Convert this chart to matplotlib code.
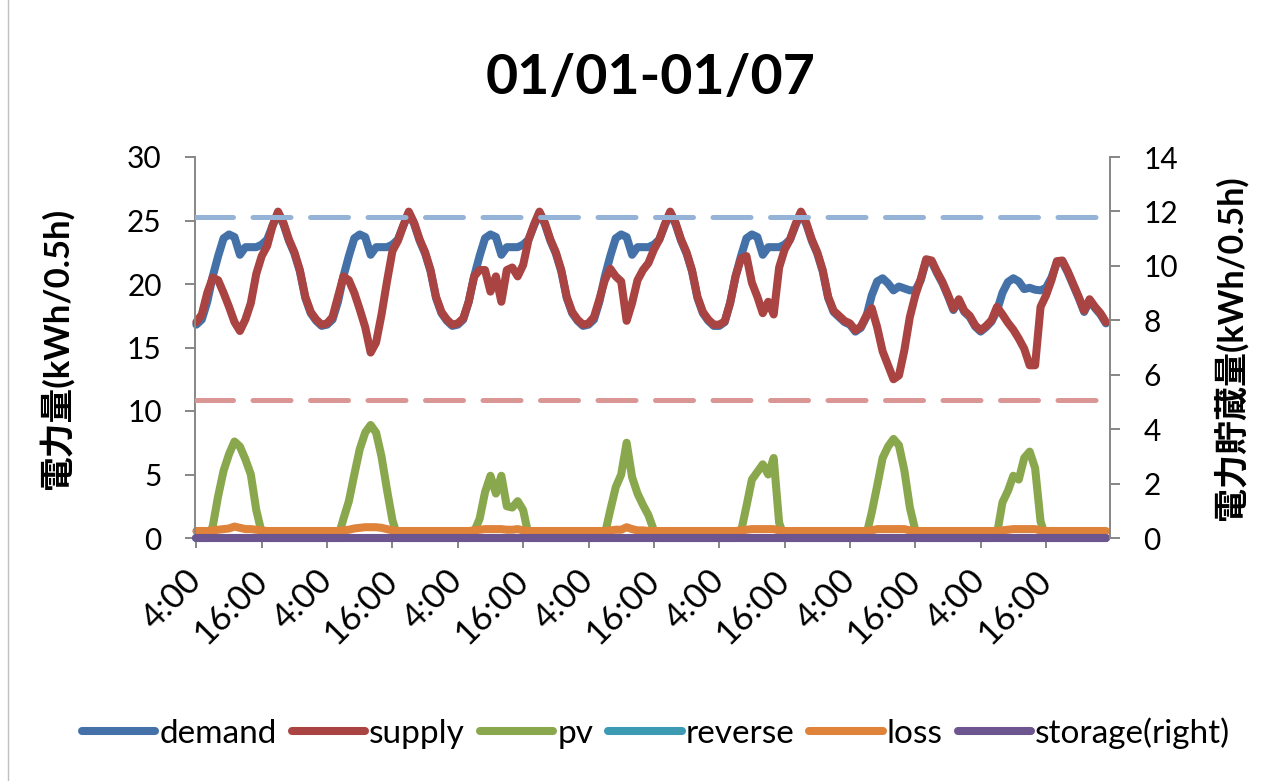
import numpy as np
import matplotlib
matplotlib.use("Agg")
import matplotlib.pyplot as plt
from matplotlib.transforms import ScaledTranslation
from matplotlib.lines import Line2D

plt.rcParams['font.family'] = ['Lato', 'Noto Sans CJK JP', 'DejaVu Sans']

title = "01/01-01/07"
series_names = ["demand", "supply", "pv", "reverse", "loss", "storage(right)"]
tick_labels = ["4:00", "16:00"] * 7
left_label = "電力量(kWh/0.5h)"
right_label = "電力貯蔵量(kWh/0.5h)"

# hourly readings starting 01/01 4:00 (24 values per day)
demand = [
    16.8, 17.2, 18.6, 20.6, 22.2, 23.6, 23.9, 23.7, 22.3, 22.9, 22.9, 22.9, 23.1, 23.5, 24.6, 25.6, 24.7, 23.4, 22.4, 21.0, 18.9, 17.7, 17.1, 16.7,
    16.8, 17.2, 18.6, 20.6, 22.2, 23.6, 23.9, 23.7, 22.3, 22.9, 22.9, 22.9, 23.1, 23.5, 24.6, 25.6, 24.7, 23.4, 22.4, 21.0, 18.9, 17.7, 17.1, 16.7,
    16.8, 17.2, 18.6, 20.6, 22.2, 23.6, 23.9, 23.7, 22.3, 22.9, 22.9, 22.9, 23.1, 23.5, 24.6, 25.6, 24.7, 23.4, 22.4, 21.0, 18.9, 17.7, 17.1, 16.7,
    16.8, 17.2, 18.6, 20.6, 22.2, 23.6, 23.9, 23.7, 22.3, 22.9, 22.9, 22.9, 23.1, 23.5, 24.6, 25.6, 24.7, 23.4, 22.4, 21.0, 18.9, 17.7, 17.1, 16.7,
    16.7, 17.0, 18.5, 20.6, 22.2, 23.6, 23.9, 23.7, 22.3, 22.9, 22.9, 22.9, 23.1, 23.5, 24.6, 25.6, 24.7, 23.4, 22.4, 21.0, 18.9, 17.8, 17.4, 17.0,
    16.8, 16.25, 16.55, 17.4, 19.1, 20.2, 20.45, 20.05, 19.5, 19.8, 19.65, 19.5, 19.5, 20.3, 21.85, 21.75, 20.85, 20.05, 19.05, 17.95, 18.7, 17.8, 17.4, 16.65,
    16.25, 16.6, 17.05, 17.9, 19.3, 20.15, 20.45, 20.2, 19.6, 19.7, 19.55, 19.5, 19.7, 20.5, 21.7, 21.75, 20.9, 19.9, 18.9, 17.8, 18.7, 18.1, 17.6, 16.9,
]

supply = [
    17.0, 17.6, 19.3, 20.5, 20.3, 19.3, 18.2, 17.0, 16.3, 17.2, 18.5, 20.8, 22.2, 23.0, 24.6, 25.7, 24.8, 23.5, 22.5, 21.1, 19.0, 17.8, 17.2, 16.8,
    16.9, 17.4, 19.0, 20.6, 20.3, 19.3, 18.0, 16.6, 14.6, 15.4, 17.6, 20.2, 22.6, 23.4, 24.6, 25.7, 24.8, 23.5, 22.5, 21.1, 19.0, 17.8, 17.2, 16.8,
    16.9, 17.3, 18.6, 20.6, 21.1, 21.1, 19.4, 20.6, 18.6, 21.1, 21.3, 20.6, 21.5, 23.5, 24.7, 25.7, 24.8, 23.5, 22.5, 21.1, 19.0, 17.8, 17.2, 16.8,
    16.9, 17.4, 18.8, 20.3, 21.2, 20.6, 20.2, 17.1, 18.5, 20.3, 21.1, 21.65, 22.7, 23.5, 24.7, 25.7, 24.8, 23.5, 22.5, 21.1, 19.0, 17.8, 17.2, 16.8,
    16.8, 17.05, 18.5, 20.6, 22.0, 22.2, 20.1, 19.0, 17.7, 18.6, 17.6, 21.3, 22.7, 23.5, 24.7, 25.7, 24.8, 23.5, 22.5, 21.1, 19.0, 17.9, 17.5, 17.1,
    16.9, 16.35, 16.65, 17.5, 18.1, 16.6, 14.7, 13.6, 12.5, 12.8, 14.8, 17.4, 19.1, 20.4, 21.95, 21.85, 20.95, 20.15, 19.15, 18.05, 18.8, 17.9, 17.5, 16.75,
    16.35, 16.7, 17.15, 18.2, 17.6, 16.95, 16.4, 15.7, 14.9, 13.6, 13.6, 18.2, 19.1, 20.3, 21.8, 21.85, 21.0, 20.0, 19.0, 17.9, 18.8, 18.2, 17.7, 17.0,
]

pv = [
    0, 0, 0, 0.9, 3.3, 5.3, 6.6, 7.6, 7.2, 6.2, 5.0, 2.2, 0.4, 0, 0, 0, 0, 0, 0, 0, 0, 0, 0, 0,
    0, 0, 0, 1.5, 2.9, 5.0, 7.0, 8.3, 8.9, 8.3, 6.4, 3.8, 1.4, 0, 0, 0, 0, 0, 0, 0, 0, 0, 0, 0,
    0, 0, 0, 0.5, 1.5, 3.6, 4.9, 3.5, 4.9, 2.5, 2.4, 2.9, 2.2, 0.2, 0, 0, 0, 0, 0, 0, 0, 0, 0, 0,
    0, 0, 0, 0.3, 2.2, 4.0, 5.0, 7.5, 4.8, 3.5, 2.6, 1.8, 0.6, 0, 0, 0, 0, 0, 0, 0, 0, 0, 0, 0,
    0, 0, 0, 0, 0.5, 2.5, 4.6, 5.2, 5.8, 5.0, 6.3, 1.2, 0, 0, 0, 0, 0, 0, 0, 0, 0, 0, 0, 0,
    0, 0, 0, 0.2, 2.0, 4.1, 6.3, 7.2, 7.8, 7.3, 5.3, 2.4, 0.6, 0, 0, 0, 0, 0, 0, 0, 0, 0, 0, 0,
    0, 0, 0, 0.3, 2.8, 3.7, 4.9, 4.6, 6.3, 6.8, 5.5, 1.3, 0, 0, 0, 0, 0, 0, 0, 0, 0, 0, 0, 0,
]

reverse = [0] * 168

loss = [
    0.55, 0.55, 0.55, 0.6, 0.65, 0.7, 0.75, 0.9, 0.8, 0.7, 0.7, 0.65, 0.6, 0.55, 0.55, 0.55, 0.55, 0.55, 0.55, 0.55, 0.55, 0.55, 0.55, 0.55,
    0.55, 0.55, 0.55, 0.6, 0.65, 0.75, 0.8, 0.85, 0.85, 0.85, 0.8, 0.7, 0.6, 0.55, 0.55, 0.55, 0.55, 0.55, 0.55, 0.55, 0.55, 0.55, 0.55, 0.55,
    0.55, 0.55, 0.55, 0.6, 0.65, 0.7, 0.7, 0.7, 0.7, 0.65, 0.65, 0.7, 0.6, 0.55, 0.55, 0.55, 0.55, 0.55, 0.55, 0.55, 0.55, 0.55, 0.55, 0.55,
    0.55, 0.55, 0.55, 0.55, 0.6, 0.65, 0.65, 0.85, 0.7, 0.6, 0.6, 0.55, 0.55, 0.55, 0.55, 0.55, 0.55, 0.55, 0.55, 0.55, 0.55, 0.55, 0.55, 0.55,
    0.55, 0.55, 0.55, 0.55, 0.6, 0.65, 0.7, 0.7, 0.7, 0.7, 0.7, 0.6, 0.55, 0.55, 0.55, 0.55, 0.55, 0.55, 0.55, 0.55, 0.55, 0.55, 0.55, 0.55,
    0.55, 0.55, 0.55, 0.55, 0.6, 0.7, 0.7, 0.7, 0.7, 0.7, 0.7, 0.6, 0.55, 0.55, 0.55, 0.55, 0.55, 0.55, 0.55, 0.55, 0.55, 0.55, 0.55, 0.55,
    0.55, 0.55, 0.55, 0.55, 0.6, 0.65, 0.7, 0.7, 0.7, 0.7, 0.7, 0.6, 0.55, 0.55, 0.55, 0.55, 0.55, 0.55, 0.55, 0.55, 0.55, 0.55, 0.55, 0.55,
]

storage = [0] * 168

upper_limit = 25.3
lower_limit = 10.85

colors = ["#4471A8", "#AA4442", "#89A74C", "#3C9AB3", "#DF823A", "#6D5590"]

# ---------------------------------------------------------------
fig = plt.figure(figsize=(12.85, 7.81), dpi=100)
ax = fig.add_axes([195 / 1285, 1 - 538 / 781, (1110 - 195) / 1285, (538 - 157) / 781])
ax2 = ax.twinx()

# faint chart-area border on the left edge
fig.add_artist(Line2D([8 / 1285, 8 / 1285], [0, 1], transform=fig.transFigure,
                      color="#BFBFBF", lw=1.0))

x = np.arange(len(demand)) * 2  # half-hour category index
n_cat = len(demand) * 2

lw = 5.8
kw = dict(lw=lw, solid_capstyle="round", solid_joinstyle="round")
handles = []
for vals, c, name in zip([demand, supply, pv, reverse, loss], colors[:5], series_names[:5]):
    h, = ax.plot(x, vals, color=c, label=name, clip_on=False, **kw)
    handles.append(h)

ax.plot([-0.5, n_cat - 0.5], [upper_limit, upper_limit], color="#95B3D7", lw=3.6,
        dashes=(7.6, 3.9), dash_capstyle="round", zorder=5)
ax.plot([-0.5, n_cat - 0.5], [lower_limit, lower_limit], color="#D99694", lw=3.6,
        dashes=(7.6, 3.9), dash_capstyle="round", zorder=5)

h6, = ax2.plot(x, storage, color=colors[5], label=series_names[5], clip_on=False, **kw)
handles.append(h6)

ax.set_xlim(-0.5, n_cat - 0.5)
ax.set_ylim(0, 30)
ax2.set_ylim(0, 14)
ax.set_yticks(np.arange(0, 31, 5))
ax2.set_yticks(np.arange(0, 15, 2))
ax.set_xticks(np.arange(0, n_cat, 24))
ax.set_xticklabels(tick_labels, rotation=45, ha="right", va="center", rotation_mode="anchor",
                   fontsize=25)
offset = ScaledTranslation(7 / 100, 0, fig.dpi_scale_trans)
for lab in ax.get_xticklabels():
    lab.set_transform(lab.get_transform() + offset)

axis_col = "#868686"
for a in (ax, ax2):
    a.spines["top"].set_visible(False)
    for s in ("left", "right", "bottom"):
        a.spines[s].set_color(axis_col)
        a.spines[s].set_linewidth(1.4)
    a.tick_params(colors=axis_col, labelcolor="black", width=1.4, length=7)
    a.tick_params(axis="y", labelsize=21.5, pad=17)
ax.spines["right"].set_visible(False)
ax2.spines["left"].set_visible(False)
ax2.spines["bottom"].set_visible(False)
ax.tick_params(axis="x", pad=20)

ax.set_ylabel(left_label, fontsize=25, fontweight="bold")
ax2.set_ylabel(right_label, fontsize=24.5, fontweight="bold")
ax.yaxis.set_label_coords(-0.133, 0.5)
ax2.yaxis.set_label_coords(1.113, 0.5)

fig.text(651 / 1285, 1 - 78 / 781, title, fontsize=40, fontweight="bold", ha="center", va="center")

fig.legend(handles=handles, labels=series_names, loc="center", ncol=6,
           bbox_to_anchor=(656 / 1285, 1 - 733 / 781), frameon=False, fontsize=24,
           handlelength=2.2, handletextpad=0.12, columnspacing=0.45)

fig.savefig("out.png", dpi=100)
